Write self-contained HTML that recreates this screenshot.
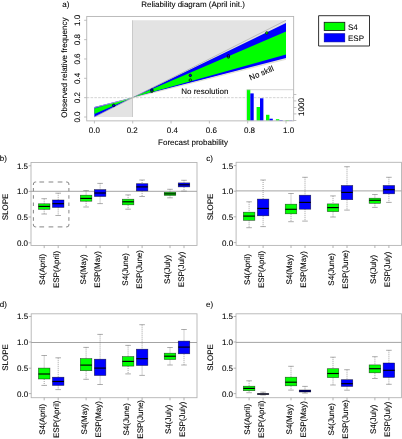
<!DOCTYPE html>
<html><head><meta charset="utf-8"><style>
html,body{margin:0;padding:0;background:#fff;}
body{width:402px;height:439px;overflow:hidden;}
svg{display:block;font-family:"Liberation Sans", sans-serif;text-rendering:geometricPrecision;}
#w{width:402px;height:439px;will-change:transform;}
</style></head><body>
<div id="w"><svg width="402" height="439" viewBox="0 0 402 439">
<g><rect width="402" height="439" fill="#fff"/>
<polygon points="94.40,117.00 132.50,117.00 132.50,20.30 286.00,20.30 286.00,58.98 94.40,107.33" fill="#e3e3e3" stroke="none"/>
<line x1="132.5" y1="117.0" x2="132.5" y2="20.299999999999997" stroke="#cacaca" stroke-width="1.0"/>
<polygon points="94.40,106.90 94.40,117.00 132.50,97.60" fill="#0000ff"/>
<polygon points="132.50,97.60 286.00,23.00 286.00,57.90" fill="#0000ff"/>
<polygon points="94.40,108.60 94.40,114.10 132.50,97.60" fill="#00ff00"/>
<polygon points="132.50,97.60 286.00,31.60 286.00,54.50" fill="#00ff00"/>
<line x1="94.4" y1="107.5234" x2="286.0" y2="59.2701" stroke="#d6d2c0" stroke-width="0.7"/>
<line x1="94.4" y1="117.0" x2="286.0" y2="20.299999999999997" stroke="#a8a8a8" stroke-width="0.7"/>
<line x1="86.736" y1="97.66" x2="293.664" y2="97.66" stroke="#c2c2c2" stroke-width="0.7" stroke-dasharray="2.6,1.2"/>
<rect x="246.9" y="89.6" width="3.4" height="31.00" fill="#00ff00"/>
<rect x="250.3" y="93.4" width="3.4" height="27.20" fill="#0000ff"/>
<rect x="256.6" y="107.0" width="3.4" height="13.60" fill="#00ff00"/>
<rect x="260.0" y="98.3" width="3.4" height="22.30" fill="#0000ff"/>
<rect x="266.0" y="114.8" width="3.4" height="5.80" fill="#00ff00"/>
<rect x="269.4" y="118.7" width="3.4" height="1.90" fill="#0000ff"/>
<rect x="275.9" y="119.2" width="3.4" height="1.40" fill="#00ff00"/>
<rect x="279.29999999999995" y="120.0" width="3.4" height="0.60" fill="#0000ff"/>
<rect x="285.5" y="120.1" width="3.4" height="0.50" fill="#00ff00"/>
<rect x="288.9" y="120.3" width="3.4" height="0.30" fill="#0000ff"/>
<line x1="246.8" y1="89.7" x2="293.664" y2="89.7" stroke="#c8c8c8" stroke-width="0.8"/>
<line x1="246.4" y1="89.7" x2="246.4" y2="120.868" stroke="#d0d0d0" stroke-width="0.7"/>
<line x1="293.664" y1="94.5" x2="296.364" y2="94.5" stroke="#b0b0b0" stroke-width="0.8"/>
<line x1="293.664" y1="100.9" x2="296.364" y2="100.9" stroke="#b0b0b0" stroke-width="0.8"/>
<line x1="293.664" y1="107.5" x2="296.364" y2="107.5" stroke="#b0b0b0" stroke-width="0.8"/>
<line x1="293.664" y1="113.9" x2="296.364" y2="113.9" stroke="#b0b0b0" stroke-width="0.8"/>
<line x1="293.664" y1="120.5" x2="296.364" y2="120.5" stroke="#b0b0b0" stroke-width="0.8"/>
<text x="304.2" y="107.0" font-size="8" text-anchor="middle" fill="#000" stroke="#000" stroke-width="0.08" transform="rotate(-90 304.2 107.0)">1000</text>
<circle cx="113.7" cy="105.4" r="1.25" fill="#0000ff" stroke="#000" stroke-width="0.7"/>
<circle cx="151.9" cy="91.2" r="1.25" fill="#00ff00" stroke="#000" stroke-width="0.7"/>
<circle cx="151.9" cy="90.1" r="1.25" fill="#0000ff" stroke="#000" stroke-width="0.7"/>
<circle cx="190.3" cy="75.4" r="1.25" fill="#0000ff" stroke="#000" stroke-width="0.7"/>
<circle cx="190.3" cy="80.1" r="1.25" fill="#00ff00" stroke="#000" stroke-width="0.7"/>
<circle cx="228.4" cy="57.0" r="1.25" fill="#00ff00" stroke="#000" stroke-width="0.7"/>
<circle cx="228.4" cy="55.8" r="1.25" fill="#0000ff" stroke="#000" stroke-width="0.7"/>
<circle cx="266.8" cy="32.9" r="1.25" fill="#00ff00" stroke="#000" stroke-width="0.7"/>
<rect x="86.736" y="16.431999999999988" width="206.928" height="104.436" fill="none" stroke="#b4b4b4" stroke-width="0.9"/>
<line x1="94.4" y1="120.868" x2="94.4" y2="123.46799999999999" stroke="#b0b0b0" stroke-width="0.8"/>
<text x="94.4" y="133.2" font-size="8" text-anchor="middle" fill="#000" stroke="#000" stroke-width="0.08">0.0</text>
<line x1="132.72" y1="120.868" x2="132.72" y2="123.46799999999999" stroke="#b0b0b0" stroke-width="0.8"/>
<text x="132.2" y="133.2" font-size="8" text-anchor="middle" fill="#000" stroke="#000" stroke-width="0.08">0.2</text>
<line x1="171.04000000000002" y1="120.868" x2="171.04000000000002" y2="123.46799999999999" stroke="#b0b0b0" stroke-width="0.8"/>
<text x="172.4" y="133.2" font-size="8" text-anchor="middle" fill="#000" stroke="#000" stroke-width="0.08">0.4</text>
<line x1="209.36" y1="120.868" x2="209.36" y2="123.46799999999999" stroke="#b0b0b0" stroke-width="0.8"/>
<text x="211.4" y="133.2" font-size="8" text-anchor="middle" fill="#000" stroke="#000" stroke-width="0.08">0.6</text>
<line x1="247.68" y1="120.868" x2="247.68" y2="123.46799999999999" stroke="#b0b0b0" stroke-width="0.8"/>
<text x="249.5" y="133.2" font-size="8" text-anchor="middle" fill="#000" stroke="#000" stroke-width="0.08">0.8</text>
<line x1="286.0" y1="120.868" x2="286.0" y2="123.46799999999999" stroke="#b0b0b0" stroke-width="0.8"/>
<text x="288.6" y="133.2" font-size="8" text-anchor="middle" fill="#000" stroke="#000" stroke-width="0.08">1.0</text>
<line x1="86.736" y1="117.0" x2="84.13600000000001" y2="117.0" stroke="#b0b0b0" stroke-width="0.8"/>
<text x="80.2" y="117.0" font-size="8" text-anchor="middle" fill="#000" stroke="#000" stroke-width="0.08" transform="rotate(-90 80.2 117.0)">0.0</text>
<line x1="86.736" y1="97.66" x2="84.13600000000001" y2="97.66" stroke="#b0b0b0" stroke-width="0.8"/>
<text x="80.2" y="97.66" font-size="8" text-anchor="middle" fill="#000" stroke="#000" stroke-width="0.08" transform="rotate(-90 80.2 97.66)">0.2</text>
<line x1="86.736" y1="78.32" x2="84.13600000000001" y2="78.32" stroke="#b0b0b0" stroke-width="0.8"/>
<text x="80.2" y="78.32" font-size="8" text-anchor="middle" fill="#000" stroke="#000" stroke-width="0.08" transform="rotate(-90 80.2 78.32)">0.4</text>
<line x1="86.736" y1="58.980000000000004" x2="84.13600000000001" y2="58.980000000000004" stroke="#b0b0b0" stroke-width="0.8"/>
<text x="80.2" y="58.980000000000004" font-size="8" text-anchor="middle" fill="#000" stroke="#000" stroke-width="0.08" transform="rotate(-90 80.2 58.980000000000004)">0.6</text>
<line x1="86.736" y1="39.639999999999986" x2="84.13600000000001" y2="39.639999999999986" stroke="#b0b0b0" stroke-width="0.8"/>
<text x="80.2" y="39.639999999999986" font-size="8" text-anchor="middle" fill="#000" stroke="#000" stroke-width="0.08" transform="rotate(-90 80.2 39.639999999999986)">0.8</text>
<line x1="86.736" y1="20.299999999999997" x2="84.13600000000001" y2="20.299999999999997" stroke="#b0b0b0" stroke-width="0.8"/>
<text x="80.2" y="20.299999999999997" font-size="8" text-anchor="middle" fill="#000" stroke="#000" stroke-width="0.08" transform="rotate(-90 80.2 20.299999999999997)">1.0</text>
<text x="193.0" y="145.4" font-size="8" text-anchor="middle" fill="#000" stroke="#000" stroke-width="0.08">Forecast probability</text>
<text x="67.2" y="67.6" font-size="8" text-anchor="middle" fill="#000" stroke="#000" stroke-width="0.08" transform="rotate(-90 67.2 67.6)">Observed relative frequency</text>
<text x="193.0" y="7.3" font-size="8" text-anchor="middle" fill="#000" stroke="#000" stroke-width="0.08">Reliability diagram (April init.)</text>
<text x="62.2" y="7.2" font-size="8" text-anchor="start" fill="#000" stroke="#000" stroke-width="0.08">a)</text>
<text x="204.8" y="94.3" font-size="8" text-anchor="middle" fill="#000" stroke="#000" stroke-width="0.08">No resolution</text>
<text x="250.6" y="80.6" font-size="8" text-anchor="start" fill="#000" stroke="#000" stroke-width="0.08" transform="rotate(-23 250.6 80.6)">No skill</text>
<rect x="318.6" y="15.7" width="50.9" height="30.3" fill="#fff" stroke="#333" stroke-width="1.0" stroke-linejoin="round"/>
<rect x="324.2" y="22.3" width="20.6" height="8.2" fill="#00ff00" stroke="#111" stroke-width="0.8"/>
<rect x="324.2" y="33.7" width="20.6" height="8.2" fill="#0000ff" stroke="#0000a0" stroke-width="0.6"/>
<text x="348.0" y="30.4" font-size="8" text-anchor="start" fill="#000" stroke="#000" stroke-width="0.08">S4</text>
<text x="348.0" y="40.6" font-size="8" text-anchor="start" fill="#000" stroke="#000" stroke-width="0.08">ESP</text>
<rect x="31.0" y="162.5" width="166.0" height="83.0" fill="none" stroke="#b4b4b4" stroke-width="0.9"/>
<line x1="31.0" y1="191.3" x2="197.0" y2="191.3" stroke="#9a9a9a" stroke-width="0.9"/>
<line x1="28.6" y1="165.8" x2="31.0" y2="165.8" stroke="#a0a0a0" stroke-width="0.8"/>
<text x="28.0" y="168.70000000000002" font-size="8" text-anchor="end" fill="#000" stroke="#000" stroke-width="0.08">1.5</text>
<line x1="28.6" y1="191.4" x2="31.0" y2="191.4" stroke="#a0a0a0" stroke-width="0.8"/>
<text x="28.0" y="194.3" font-size="8" text-anchor="end" fill="#000" stroke="#000" stroke-width="0.08">1.0</text>
<line x1="28.6" y1="217.0" x2="31.0" y2="217.0" stroke="#a0a0a0" stroke-width="0.8"/>
<text x="28.0" y="219.9" font-size="8" text-anchor="end" fill="#000" stroke="#000" stroke-width="0.08">0.5</text>
<line x1="28.6" y1="242.8" x2="31.0" y2="242.8" stroke="#a0a0a0" stroke-width="0.8"/>
<text x="28.0" y="245.70000000000002" font-size="8" text-anchor="end" fill="#000" stroke="#000" stroke-width="0.08">0.0</text>
<text x="8.0" y="207.0" font-size="8" text-anchor="middle" fill="#000" stroke="#000" stroke-width="0.08" transform="rotate(-90 8.0 207.0)">SLOPE</text>
<text x="-0.3" y="161.2" font-size="8" text-anchor="start" fill="#000" stroke="#000" stroke-width="0.08">b)</text>
<line x1="44.2" y1="198.7" x2="44.2" y2="203.8" stroke="#707070" stroke-width="0.65" stroke-dasharray="1,1"/>
<line x1="44.2" y1="209.3" x2="44.2" y2="214.0" stroke="#707070" stroke-width="0.65" stroke-dasharray="1,1"/>
<line x1="41.400000000000006" y1="198.7" x2="47.0" y2="198.7" stroke="#8a8a8a" stroke-width="0.7"/>
<line x1="41.400000000000006" y1="214.0" x2="47.0" y2="214.0" stroke="#8a8a8a" stroke-width="0.7"/>
<rect x="38.45" y="203.8" width="11.5" height="5.50" fill="#00ff00" stroke="#000" stroke-opacity="0.65" stroke-width="0.6"/>
<line x1="38.45" y1="206.4" x2="49.95" y2="206.4" stroke="#000" stroke-width="1.15"/>
<line x1="44.2" y1="245.5" x2="44.2" y2="248.1" stroke="#a0a0a0" stroke-width="0.8"/>
<text x="44.6" y="269.4" font-size="8" text-anchor="middle" fill="#000" stroke="#000" stroke-width="0.08" transform="rotate(-90 44.6 269.4)">S4(April)</text>
<line x1="58.2" y1="193.2" x2="58.2" y2="200.0" stroke="#707070" stroke-width="0.65" stroke-dasharray="1,1"/>
<line x1="58.2" y1="207.4" x2="58.2" y2="215.5" stroke="#707070" stroke-width="0.65" stroke-dasharray="1,1"/>
<line x1="55.400000000000006" y1="193.2" x2="61.0" y2="193.2" stroke="#8a8a8a" stroke-width="0.7"/>
<line x1="55.400000000000006" y1="215.5" x2="61.0" y2="215.5" stroke="#8a8a8a" stroke-width="0.7"/>
<rect x="52.45" y="200.0" width="11.5" height="7.40" fill="#0000ff" stroke="#000" stroke-opacity="0.65" stroke-width="0.6"/>
<line x1="52.45" y1="203.7" x2="63.95" y2="203.7" stroke="#000" stroke-width="1.15"/>
<line x1="58.2" y1="245.5" x2="58.2" y2="248.1" stroke="#a0a0a0" stroke-width="0.8"/>
<text x="58.6" y="269.4" font-size="8" text-anchor="middle" fill="#000" stroke="#000" stroke-width="0.08" transform="rotate(-90 58.6 269.4)">ESP(April)</text>
<line x1="86.1" y1="190.5" x2="86.1" y2="195.2" stroke="#707070" stroke-width="0.65" stroke-dasharray="1,1"/>
<line x1="86.1" y1="201.2" x2="86.1" y2="207.0" stroke="#707070" stroke-width="0.65" stroke-dasharray="1,1"/>
<line x1="83.3" y1="190.5" x2="88.89999999999999" y2="190.5" stroke="#8a8a8a" stroke-width="0.7"/>
<line x1="83.3" y1="207.0" x2="88.89999999999999" y2="207.0" stroke="#8a8a8a" stroke-width="0.7"/>
<rect x="80.35" y="195.2" width="11.5" height="6.00" fill="#00ff00" stroke="#000" stroke-opacity="0.65" stroke-width="0.6"/>
<line x1="80.35" y1="198.4" x2="91.85" y2="198.4" stroke="#000" stroke-width="1.15"/>
<line x1="86.1" y1="245.5" x2="86.1" y2="248.1" stroke="#a0a0a0" stroke-width="0.8"/>
<text x="86.5" y="269.4" font-size="8" text-anchor="middle" fill="#000" stroke="#000" stroke-width="0.08" transform="rotate(-90 86.5 269.4)">S4(May)</text>
<line x1="100.1" y1="183.4" x2="100.1" y2="189.6" stroke="#707070" stroke-width="0.65" stroke-dasharray="1,1"/>
<line x1="100.1" y1="196.5" x2="100.1" y2="203.6" stroke="#707070" stroke-width="0.65" stroke-dasharray="1,1"/>
<line x1="97.3" y1="183.4" x2="102.89999999999999" y2="183.4" stroke="#8a8a8a" stroke-width="0.7"/>
<line x1="97.3" y1="203.6" x2="102.89999999999999" y2="203.6" stroke="#8a8a8a" stroke-width="0.7"/>
<rect x="94.35" y="189.6" width="11.5" height="6.90" fill="#0000ff" stroke="#000" stroke-opacity="0.65" stroke-width="0.6"/>
<line x1="94.35" y1="193.0" x2="105.85" y2="193.0" stroke="#000" stroke-width="1.15"/>
<line x1="100.1" y1="245.5" x2="100.1" y2="248.1" stroke="#a0a0a0" stroke-width="0.8"/>
<text x="100.5" y="269.4" font-size="8" text-anchor="middle" fill="#000" stroke="#000" stroke-width="0.08" transform="rotate(-90 100.5 269.4)">ESP(May)</text>
<line x1="128.1" y1="194.9" x2="128.1" y2="199.2" stroke="#707070" stroke-width="0.65" stroke-dasharray="1,1"/>
<line x1="128.1" y1="204.8" x2="128.1" y2="209.2" stroke="#707070" stroke-width="0.65" stroke-dasharray="1,1"/>
<line x1="125.3" y1="194.9" x2="130.9" y2="194.9" stroke="#8a8a8a" stroke-width="0.7"/>
<line x1="125.3" y1="209.2" x2="130.9" y2="209.2" stroke="#8a8a8a" stroke-width="0.7"/>
<rect x="122.35" y="199.2" width="11.5" height="5.60" fill="#00ff00" stroke="#000" stroke-opacity="0.65" stroke-width="0.6"/>
<line x1="122.35" y1="201.8" x2="133.85" y2="201.8" stroke="#000" stroke-width="1.15"/>
<line x1="128.1" y1="245.5" x2="128.1" y2="248.1" stroke="#a0a0a0" stroke-width="0.8"/>
<text x="128.5" y="269.4" font-size="8" text-anchor="middle" fill="#000" stroke="#000" stroke-width="0.08" transform="rotate(-90 128.5 269.4)">S4(June)</text>
<line x1="142.1" y1="180.0" x2="142.1" y2="183.7" stroke="#707070" stroke-width="0.65" stroke-dasharray="1,1"/>
<line x1="142.1" y1="190.9" x2="142.1" y2="196.5" stroke="#707070" stroke-width="0.65" stroke-dasharray="1,1"/>
<line x1="139.29999999999998" y1="180.0" x2="144.9" y2="180.0" stroke="#8a8a8a" stroke-width="0.7"/>
<line x1="139.29999999999998" y1="196.5" x2="144.9" y2="196.5" stroke="#8a8a8a" stroke-width="0.7"/>
<rect x="136.35" y="183.7" width="11.5" height="7.20" fill="#0000ff" stroke="#000" stroke-opacity="0.65" stroke-width="0.6"/>
<line x1="136.35" y1="186.9" x2="147.85" y2="186.9" stroke="#000" stroke-width="1.15"/>
<line x1="142.1" y1="245.5" x2="142.1" y2="248.1" stroke="#a0a0a0" stroke-width="0.8"/>
<text x="142.5" y="269.4" font-size="8" text-anchor="middle" fill="#000" stroke="#000" stroke-width="0.08" transform="rotate(-90 142.5 269.4)">ESP(June)</text>
<line x1="170.0" y1="189.3" x2="170.0" y2="192.3" stroke="#707070" stroke-width="0.65" stroke-dasharray="1,1"/>
<line x1="170.0" y1="195.4" x2="170.0" y2="197.8" stroke="#707070" stroke-width="0.65" stroke-dasharray="1,1"/>
<line x1="167.2" y1="189.3" x2="172.8" y2="189.3" stroke="#8a8a8a" stroke-width="0.7"/>
<line x1="167.2" y1="197.8" x2="172.8" y2="197.8" stroke="#8a8a8a" stroke-width="0.7"/>
<rect x="164.25" y="192.3" width="11.5" height="3.10" fill="#00ff00" stroke="#000" stroke-opacity="0.65" stroke-width="0.6"/>
<line x1="164.25" y1="193.9" x2="175.75" y2="193.9" stroke="#000" stroke-width="1.15"/>
<line x1="170.0" y1="245.5" x2="170.0" y2="248.1" stroke="#a0a0a0" stroke-width="0.8"/>
<text x="170.4" y="269.4" font-size="8" text-anchor="middle" fill="#000" stroke="#000" stroke-width="0.08" transform="rotate(-90 170.4 269.4)">S4(July)</text>
<line x1="184.0" y1="180.3" x2="184.0" y2="182.9" stroke="#707070" stroke-width="0.65" stroke-dasharray="1,1"/>
<line x1="184.0" y1="186.9" x2="184.0" y2="191.1" stroke="#707070" stroke-width="0.65" stroke-dasharray="1,1"/>
<line x1="181.2" y1="180.3" x2="186.8" y2="180.3" stroke="#8a8a8a" stroke-width="0.7"/>
<line x1="181.2" y1="191.1" x2="186.8" y2="191.1" stroke="#8a8a8a" stroke-width="0.7"/>
<rect x="178.25" y="182.9" width="11.5" height="4.00" fill="#0000ff" stroke="#000" stroke-opacity="0.65" stroke-width="0.6"/>
<line x1="178.25" y1="184.8" x2="189.75" y2="184.8" stroke="#000" stroke-width="1.15"/>
<line x1="184.0" y1="245.5" x2="184.0" y2="248.1" stroke="#a0a0a0" stroke-width="0.8"/>
<text x="184.4" y="269.4" font-size="8" text-anchor="middle" fill="#000" stroke="#000" stroke-width="0.08" transform="rotate(-90 184.4 269.4)">ESP(July)</text>
<rect x="236.1" y="162.3" width="165.4" height="83.1" fill="none" stroke="#b4b4b4" stroke-width="0.9"/>
<line x1="236.1" y1="190.9" x2="401.5" y2="190.9" stroke="#9a9a9a" stroke-width="0.9"/>
<line x1="233.7" y1="165.6" x2="236.1" y2="165.6" stroke="#a0a0a0" stroke-width="0.8"/>
<text x="233.1" y="168.5" font-size="8" text-anchor="end" fill="#000" stroke="#000" stroke-width="0.08">1.5</text>
<line x1="233.7" y1="191.2" x2="236.1" y2="191.2" stroke="#a0a0a0" stroke-width="0.8"/>
<text x="233.1" y="194.1" font-size="8" text-anchor="end" fill="#000" stroke="#000" stroke-width="0.08">1.0</text>
<line x1="233.7" y1="216.8" x2="236.1" y2="216.8" stroke="#a0a0a0" stroke-width="0.8"/>
<text x="233.1" y="219.70000000000002" font-size="8" text-anchor="end" fill="#000" stroke="#000" stroke-width="0.08">0.5</text>
<line x1="233.7" y1="242.6" x2="236.1" y2="242.6" stroke="#a0a0a0" stroke-width="0.8"/>
<text x="233.1" y="245.5" font-size="8" text-anchor="end" fill="#000" stroke="#000" stroke-width="0.08">0.0</text>
<text x="212.9" y="207.0" font-size="8" text-anchor="middle" fill="#000" stroke="#000" stroke-width="0.08" transform="rotate(-90 212.9 207.0)">SLOPE</text>
<text x="206.3" y="161.0" font-size="8" text-anchor="start" fill="#000" stroke="#000" stroke-width="0.08">c)</text>
<line x1="249.10000000000002" y1="201.8" x2="249.10000000000002" y2="212.2" stroke="#707070" stroke-width="0.65" stroke-dasharray="1,1"/>
<line x1="249.10000000000002" y1="220.3" x2="249.10000000000002" y2="227.7" stroke="#707070" stroke-width="0.65" stroke-dasharray="1,1"/>
<line x1="246.3" y1="201.8" x2="251.90000000000003" y2="201.8" stroke="#8a8a8a" stroke-width="0.7"/>
<line x1="246.3" y1="227.7" x2="251.90000000000003" y2="227.7" stroke="#8a8a8a" stroke-width="0.7"/>
<rect x="243.35" y="212.2" width="11.5" height="8.10" fill="#00ff00" stroke="#000" stroke-opacity="0.65" stroke-width="0.6"/>
<line x1="243.35000000000002" y1="216.1" x2="254.85000000000002" y2="216.1" stroke="#000" stroke-width="1.15"/>
<line x1="249.10000000000002" y1="245.4" x2="249.10000000000002" y2="248.0" stroke="#a0a0a0" stroke-width="0.8"/>
<text x="250.10000000000002" y="269.4" font-size="8" text-anchor="middle" fill="#000" stroke="#000" stroke-width="0.08" transform="rotate(-90 250.10000000000002 269.4)">S4(April)</text>
<line x1="263.1" y1="180.0" x2="263.1" y2="199.1" stroke="#707070" stroke-width="0.65" stroke-dasharray="1,1"/>
<line x1="263.1" y1="215.8" x2="263.1" y2="226.6" stroke="#707070" stroke-width="0.65" stroke-dasharray="1,1"/>
<line x1="260.3" y1="180.0" x2="265.90000000000003" y2="180.0" stroke="#8a8a8a" stroke-width="0.7"/>
<line x1="260.3" y1="226.6" x2="265.90000000000003" y2="226.6" stroke="#8a8a8a" stroke-width="0.7"/>
<rect x="257.35" y="199.1" width="11.5" height="16.70" fill="#0000ff" stroke="#000" stroke-opacity="0.65" stroke-width="0.6"/>
<line x1="257.35" y1="208.4" x2="268.85" y2="208.4" stroke="#000" stroke-width="1.15"/>
<line x1="263.1" y1="245.4" x2="263.1" y2="248.0" stroke="#a0a0a0" stroke-width="0.8"/>
<text x="264.1" y="269.4" font-size="8" text-anchor="middle" fill="#000" stroke="#000" stroke-width="0.08" transform="rotate(-90 264.1 269.4)">ESP(April)</text>
<line x1="291.0" y1="193.5" x2="291.0" y2="204.2" stroke="#707070" stroke-width="0.65" stroke-dasharray="1,1"/>
<line x1="291.0" y1="213.8" x2="291.0" y2="221.7" stroke="#707070" stroke-width="0.65" stroke-dasharray="1,1"/>
<line x1="288.2" y1="193.5" x2="293.8" y2="193.5" stroke="#8a8a8a" stroke-width="0.7"/>
<line x1="288.2" y1="221.7" x2="293.8" y2="221.7" stroke="#8a8a8a" stroke-width="0.7"/>
<rect x="285.25" y="204.2" width="11.5" height="9.60" fill="#00ff00" stroke="#000" stroke-opacity="0.65" stroke-width="0.6"/>
<line x1="285.25" y1="209.3" x2="296.75" y2="209.3" stroke="#000" stroke-width="1.15"/>
<line x1="291.0" y1="245.4" x2="291.0" y2="248.0" stroke="#a0a0a0" stroke-width="0.8"/>
<text x="292.0" y="269.4" font-size="8" text-anchor="middle" fill="#000" stroke="#000" stroke-width="0.08" transform="rotate(-90 292.0 269.4)">S4(May)</text>
<line x1="305.0" y1="177.3" x2="305.0" y2="195.2" stroke="#707070" stroke-width="0.65" stroke-dasharray="1,1"/>
<line x1="305.0" y1="209.2" x2="305.0" y2="221.1" stroke="#707070" stroke-width="0.65" stroke-dasharray="1,1"/>
<line x1="302.2" y1="177.3" x2="307.8" y2="177.3" stroke="#8a8a8a" stroke-width="0.7"/>
<line x1="302.2" y1="221.1" x2="307.8" y2="221.1" stroke="#8a8a8a" stroke-width="0.7"/>
<rect x="299.25" y="195.2" width="11.5" height="14.00" fill="#0000ff" stroke="#000" stroke-opacity="0.65" stroke-width="0.6"/>
<line x1="299.25" y1="202.4" x2="310.75" y2="202.4" stroke="#000" stroke-width="1.15"/>
<line x1="305.0" y1="245.4" x2="305.0" y2="248.0" stroke="#a0a0a0" stroke-width="0.8"/>
<text x="306.0" y="269.4" font-size="8" text-anchor="middle" fill="#000" stroke="#000" stroke-width="0.08" transform="rotate(-90 306.0 269.4)">ESP(May)</text>
<line x1="333.0" y1="195.9" x2="333.0" y2="203.9" stroke="#707070" stroke-width="0.65" stroke-dasharray="1,1"/>
<line x1="333.0" y1="211.6" x2="333.0" y2="217.0" stroke="#707070" stroke-width="0.65" stroke-dasharray="1,1"/>
<line x1="330.2" y1="195.9" x2="335.8" y2="195.9" stroke="#8a8a8a" stroke-width="0.7"/>
<line x1="330.2" y1="217.0" x2="335.8" y2="217.0" stroke="#8a8a8a" stroke-width="0.7"/>
<rect x="327.25" y="203.9" width="11.5" height="7.70" fill="#00ff00" stroke="#000" stroke-opacity="0.65" stroke-width="0.6"/>
<line x1="327.25" y1="207.6" x2="338.75" y2="207.6" stroke="#000" stroke-width="1.15"/>
<line x1="333.0" y1="245.4" x2="333.0" y2="248.0" stroke="#a0a0a0" stroke-width="0.8"/>
<text x="334.0" y="269.4" font-size="8" text-anchor="middle" fill="#000" stroke="#000" stroke-width="0.08" transform="rotate(-90 334.0 269.4)">S4(June)</text>
<line x1="347.0" y1="166.7" x2="347.0" y2="185.5" stroke="#707070" stroke-width="0.65" stroke-dasharray="1,1"/>
<line x1="347.0" y1="199.7" x2="347.0" y2="210.1" stroke="#707070" stroke-width="0.65" stroke-dasharray="1,1"/>
<line x1="344.2" y1="166.7" x2="349.8" y2="166.7" stroke="#8a8a8a" stroke-width="0.7"/>
<line x1="344.2" y1="210.1" x2="349.8" y2="210.1" stroke="#8a8a8a" stroke-width="0.7"/>
<rect x="341.25" y="185.5" width="11.5" height="14.20" fill="#0000ff" stroke="#000" stroke-opacity="0.65" stroke-width="0.6"/>
<line x1="341.25" y1="192.4" x2="352.75" y2="192.4" stroke="#000" stroke-width="1.15"/>
<line x1="347.0" y1="245.4" x2="347.0" y2="248.0" stroke="#a0a0a0" stroke-width="0.8"/>
<text x="348.0" y="269.4" font-size="8" text-anchor="middle" fill="#000" stroke="#000" stroke-width="0.08" transform="rotate(-90 348.0 269.4)">ESP(June)</text>
<line x1="374.9" y1="194.5" x2="374.9" y2="198.2" stroke="#707070" stroke-width="0.65" stroke-dasharray="1,1"/>
<line x1="374.9" y1="203.3" x2="374.9" y2="207.4" stroke="#707070" stroke-width="0.65" stroke-dasharray="1,1"/>
<line x1="372.09999999999997" y1="194.5" x2="377.7" y2="194.5" stroke="#8a8a8a" stroke-width="0.7"/>
<line x1="372.09999999999997" y1="207.4" x2="377.7" y2="207.4" stroke="#8a8a8a" stroke-width="0.7"/>
<rect x="369.15" y="198.2" width="11.5" height="5.10" fill="#00ff00" stroke="#000" stroke-opacity="0.65" stroke-width="0.6"/>
<line x1="369.15" y1="200.3" x2="380.65" y2="200.3" stroke="#000" stroke-width="1.15"/>
<line x1="374.9" y1="245.4" x2="374.9" y2="248.0" stroke="#a0a0a0" stroke-width="0.8"/>
<text x="375.9" y="269.4" font-size="8" text-anchor="middle" fill="#000" stroke="#000" stroke-width="0.08" transform="rotate(-90 375.9 269.4)">S4(July)</text>
<line x1="388.9" y1="177.3" x2="388.9" y2="185.5" stroke="#707070" stroke-width="0.65" stroke-dasharray="1,1"/>
<line x1="388.9" y1="193.8" x2="388.9" y2="202.4" stroke="#707070" stroke-width="0.65" stroke-dasharray="1,1"/>
<line x1="386.09999999999997" y1="177.3" x2="391.7" y2="177.3" stroke="#8a8a8a" stroke-width="0.7"/>
<line x1="386.09999999999997" y1="202.4" x2="391.7" y2="202.4" stroke="#8a8a8a" stroke-width="0.7"/>
<rect x="383.15" y="185.5" width="11.5" height="8.30" fill="#0000ff" stroke="#000" stroke-opacity="0.65" stroke-width="0.6"/>
<line x1="383.15" y1="189.7" x2="394.65" y2="189.7" stroke="#000" stroke-width="1.15"/>
<line x1="388.9" y1="245.4" x2="388.9" y2="248.0" stroke="#a0a0a0" stroke-width="0.8"/>
<text x="389.9" y="269.4" font-size="8" text-anchor="middle" fill="#000" stroke="#000" stroke-width="0.08" transform="rotate(-90 389.9 269.4)">ESP(July)</text>
<rect x="31.2" y="313.8" width="165.8" height="83.89999999999998" fill="none" stroke="#b4b4b4" stroke-width="0.9"/>
<line x1="31.2" y1="342.5" x2="197.0" y2="342.5" stroke="#9a9a9a" stroke-width="0.9"/>
<line x1="28.8" y1="316.5" x2="31.2" y2="316.5" stroke="#a0a0a0" stroke-width="0.8"/>
<text x="28.2" y="319.4" font-size="8" text-anchor="end" fill="#000" stroke="#000" stroke-width="0.08">1.5</text>
<line x1="28.8" y1="342.0" x2="31.2" y2="342.0" stroke="#a0a0a0" stroke-width="0.8"/>
<text x="28.2" y="344.9" font-size="8" text-anchor="end" fill="#000" stroke="#000" stroke-width="0.08">1.0</text>
<line x1="28.8" y1="368.2" x2="31.2" y2="368.2" stroke="#a0a0a0" stroke-width="0.8"/>
<text x="28.2" y="371.09999999999997" font-size="8" text-anchor="end" fill="#000" stroke="#000" stroke-width="0.08">0.5</text>
<line x1="28.8" y1="393.6" x2="31.2" y2="393.6" stroke="#a0a0a0" stroke-width="0.8"/>
<text x="28.2" y="396.5" font-size="8" text-anchor="end" fill="#000" stroke="#000" stroke-width="0.08">0.0</text>
<text x="8.0" y="357.5" font-size="8" text-anchor="middle" fill="#000" stroke="#000" stroke-width="0.08" transform="rotate(-90 8.0 357.5)">SLOPE</text>
<text x="-0.3" y="306.9" font-size="8" text-anchor="start" fill="#000" stroke="#000" stroke-width="0.08">d)</text>
<line x1="44.2" y1="355.5" x2="44.2" y2="368.1" stroke="#707070" stroke-width="0.65" stroke-dasharray="1,1"/>
<line x1="44.2" y1="379.0" x2="44.2" y2="385.4" stroke="#707070" stroke-width="0.65" stroke-dasharray="1,1"/>
<line x1="41.400000000000006" y1="355.5" x2="47.0" y2="355.5" stroke="#8a8a8a" stroke-width="0.7"/>
<line x1="41.400000000000006" y1="385.4" x2="47.0" y2="385.4" stroke="#8a8a8a" stroke-width="0.7"/>
<rect x="38.45" y="368.1" width="11.5" height="10.90" fill="#00ff00" stroke="#000" stroke-opacity="0.65" stroke-width="0.6"/>
<line x1="38.45" y1="374.0" x2="49.95" y2="374.0" stroke="#000" stroke-width="1.15"/>
<line x1="44.2" y1="397.7" x2="44.2" y2="400.3" stroke="#a0a0a0" stroke-width="0.8"/>
<text x="45.0" y="419.3" font-size="8" text-anchor="middle" fill="#000" stroke="#000" stroke-width="0.08" transform="rotate(-90 45.0 419.3)">S4(April)</text>
<line x1="58.2" y1="357.8" x2="58.2" y2="377.2" stroke="#707070" stroke-width="0.65" stroke-dasharray="1,1"/>
<line x1="58.2" y1="385.4" x2="58.2" y2="389.6" stroke="#707070" stroke-width="0.65" stroke-dasharray="1,1"/>
<line x1="55.400000000000006" y1="357.8" x2="61.0" y2="357.8" stroke="#8a8a8a" stroke-width="0.7"/>
<line x1="55.400000000000006" y1="389.6" x2="61.0" y2="389.6" stroke="#8a8a8a" stroke-width="0.7"/>
<rect x="52.45" y="377.2" width="11.5" height="8.20" fill="#0000ff" stroke="#000" stroke-opacity="0.65" stroke-width="0.6"/>
<line x1="52.45" y1="381.5" x2="63.95" y2="381.5" stroke="#000" stroke-width="1.15"/>
<line x1="58.2" y1="397.7" x2="58.2" y2="400.3" stroke="#a0a0a0" stroke-width="0.8"/>
<text x="59.0" y="419.3" font-size="8" text-anchor="middle" fill="#000" stroke="#000" stroke-width="0.08" transform="rotate(-90 59.0 419.3)">ESP(April)</text>
<line x1="86.1" y1="347.4" x2="86.1" y2="358.6" stroke="#707070" stroke-width="0.65" stroke-dasharray="1,1"/>
<line x1="86.1" y1="370.7" x2="86.1" y2="379.3" stroke="#707070" stroke-width="0.65" stroke-dasharray="1,1"/>
<line x1="83.3" y1="347.4" x2="88.89999999999999" y2="347.4" stroke="#8a8a8a" stroke-width="0.7"/>
<line x1="83.3" y1="379.3" x2="88.89999999999999" y2="379.3" stroke="#8a8a8a" stroke-width="0.7"/>
<rect x="80.35" y="358.6" width="11.5" height="12.10" fill="#00ff00" stroke="#000" stroke-opacity="0.65" stroke-width="0.6"/>
<line x1="80.35" y1="365.1" x2="91.85" y2="365.1" stroke="#000" stroke-width="1.15"/>
<line x1="86.1" y1="397.7" x2="86.1" y2="400.3" stroke="#a0a0a0" stroke-width="0.8"/>
<text x="86.9" y="419.3" font-size="8" text-anchor="middle" fill="#000" stroke="#000" stroke-width="0.08" transform="rotate(-90 86.9 419.3)">S4(May)</text>
<line x1="100.1" y1="334.4" x2="100.1" y2="359.2" stroke="#707070" stroke-width="0.65" stroke-dasharray="1,1"/>
<line x1="100.1" y1="375.5" x2="100.1" y2="384.5" stroke="#707070" stroke-width="0.65" stroke-dasharray="1,1"/>
<line x1="97.3" y1="334.4" x2="102.89999999999999" y2="334.4" stroke="#8a8a8a" stroke-width="0.7"/>
<line x1="97.3" y1="384.5" x2="102.89999999999999" y2="384.5" stroke="#8a8a8a" stroke-width="0.7"/>
<rect x="94.35" y="359.2" width="11.5" height="16.30" fill="#0000ff" stroke="#000" stroke-opacity="0.65" stroke-width="0.6"/>
<line x1="94.35" y1="368.1" x2="105.85" y2="368.1" stroke="#000" stroke-width="1.15"/>
<line x1="100.1" y1="397.7" x2="100.1" y2="400.3" stroke="#a0a0a0" stroke-width="0.8"/>
<text x="100.9" y="419.3" font-size="8" text-anchor="middle" fill="#000" stroke="#000" stroke-width="0.08" transform="rotate(-90 100.9 419.3)">ESP(May)</text>
<line x1="128.1" y1="345.4" x2="128.1" y2="356.6" stroke="#707070" stroke-width="0.65" stroke-dasharray="1,1"/>
<line x1="128.1" y1="366.1" x2="128.1" y2="373.9" stroke="#707070" stroke-width="0.65" stroke-dasharray="1,1"/>
<line x1="125.3" y1="345.4" x2="130.9" y2="345.4" stroke="#8a8a8a" stroke-width="0.7"/>
<line x1="125.3" y1="373.9" x2="130.9" y2="373.9" stroke="#8a8a8a" stroke-width="0.7"/>
<rect x="122.35" y="356.6" width="11.5" height="9.50" fill="#00ff00" stroke="#000" stroke-opacity="0.65" stroke-width="0.6"/>
<line x1="122.35" y1="361.4" x2="133.85" y2="361.4" stroke="#000" stroke-width="1.15"/>
<line x1="128.1" y1="397.7" x2="128.1" y2="400.3" stroke="#a0a0a0" stroke-width="0.8"/>
<text x="128.9" y="419.3" font-size="8" text-anchor="middle" fill="#000" stroke="#000" stroke-width="0.08" transform="rotate(-90 128.9 419.3)">S4(June)</text>
<line x1="142.1" y1="324.7" x2="142.1" y2="349.2" stroke="#707070" stroke-width="0.65" stroke-dasharray="1,1"/>
<line x1="142.1" y1="365.5" x2="142.1" y2="375.4" stroke="#707070" stroke-width="0.65" stroke-dasharray="1,1"/>
<line x1="139.29999999999998" y1="324.7" x2="144.9" y2="324.7" stroke="#8a8a8a" stroke-width="0.7"/>
<line x1="139.29999999999998" y1="375.4" x2="144.9" y2="375.4" stroke="#8a8a8a" stroke-width="0.7"/>
<rect x="136.35" y="349.2" width="11.5" height="16.30" fill="#0000ff" stroke="#000" stroke-opacity="0.65" stroke-width="0.6"/>
<line x1="136.35" y1="358.7" x2="147.85" y2="358.7" stroke="#000" stroke-width="1.15"/>
<line x1="142.1" y1="397.7" x2="142.1" y2="400.3" stroke="#a0a0a0" stroke-width="0.8"/>
<text x="142.9" y="419.3" font-size="8" text-anchor="middle" fill="#000" stroke="#000" stroke-width="0.08" transform="rotate(-90 142.9 419.3)">ESP(June)</text>
<line x1="170.0" y1="347.5" x2="170.0" y2="353.2" stroke="#707070" stroke-width="0.65" stroke-dasharray="1,1"/>
<line x1="170.0" y1="359.5" x2="170.0" y2="365.0" stroke="#707070" stroke-width="0.65" stroke-dasharray="1,1"/>
<line x1="167.2" y1="347.5" x2="172.8" y2="347.5" stroke="#8a8a8a" stroke-width="0.7"/>
<line x1="167.2" y1="365.0" x2="172.8" y2="365.0" stroke="#8a8a8a" stroke-width="0.7"/>
<rect x="164.25" y="353.2" width="11.5" height="6.30" fill="#00ff00" stroke="#000" stroke-opacity="0.65" stroke-width="0.6"/>
<line x1="164.25" y1="356.2" x2="175.75" y2="356.2" stroke="#000" stroke-width="1.15"/>
<line x1="170.0" y1="397.7" x2="170.0" y2="400.3" stroke="#a0a0a0" stroke-width="0.8"/>
<text x="170.8" y="419.3" font-size="8" text-anchor="middle" fill="#000" stroke="#000" stroke-width="0.08" transform="rotate(-90 170.8 419.3)">S4(July)</text>
<line x1="184.0" y1="329.5" x2="184.0" y2="341.1" stroke="#707070" stroke-width="0.65" stroke-dasharray="1,1"/>
<line x1="184.0" y1="353.8" x2="184.0" y2="365.0" stroke="#707070" stroke-width="0.65" stroke-dasharray="1,1"/>
<line x1="181.2" y1="329.5" x2="186.8" y2="329.5" stroke="#8a8a8a" stroke-width="0.7"/>
<line x1="181.2" y1="365.0" x2="186.8" y2="365.0" stroke="#8a8a8a" stroke-width="0.7"/>
<rect x="178.25" y="341.1" width="11.5" height="12.70" fill="#0000ff" stroke="#000" stroke-opacity="0.65" stroke-width="0.6"/>
<line x1="178.25" y1="347.1" x2="189.75" y2="347.1" stroke="#000" stroke-width="1.15"/>
<line x1="184.0" y1="397.7" x2="184.0" y2="400.3" stroke="#a0a0a0" stroke-width="0.8"/>
<text x="184.8" y="419.3" font-size="8" text-anchor="middle" fill="#000" stroke="#000" stroke-width="0.08" transform="rotate(-90 184.8 419.3)">ESP(July)</text>
<rect x="236.0" y="313.8" width="165.39999999999998" height="83.89999999999998" fill="none" stroke="#b4b4b4" stroke-width="0.9"/>
<line x1="236.0" y1="342.4" x2="401.4" y2="342.4" stroke="#9a9a9a" stroke-width="0.9"/>
<line x1="233.6" y1="316.5" x2="236.0" y2="316.5" stroke="#a0a0a0" stroke-width="0.8"/>
<text x="233.0" y="319.4" font-size="8" text-anchor="end" fill="#000" stroke="#000" stroke-width="0.08">1.5</text>
<line x1="233.6" y1="342.0" x2="236.0" y2="342.0" stroke="#a0a0a0" stroke-width="0.8"/>
<text x="233.0" y="344.9" font-size="8" text-anchor="end" fill="#000" stroke="#000" stroke-width="0.08">1.0</text>
<line x1="233.6" y1="368.2" x2="236.0" y2="368.2" stroke="#a0a0a0" stroke-width="0.8"/>
<text x="233.0" y="371.09999999999997" font-size="8" text-anchor="end" fill="#000" stroke="#000" stroke-width="0.08">0.5</text>
<line x1="233.6" y1="393.6" x2="236.0" y2="393.6" stroke="#a0a0a0" stroke-width="0.8"/>
<text x="233.0" y="396.5" font-size="8" text-anchor="end" fill="#000" stroke="#000" stroke-width="0.08">0.0</text>
<text x="212.9" y="357.5" font-size="8" text-anchor="middle" fill="#000" stroke="#000" stroke-width="0.08" transform="rotate(-90 212.9 357.5)">SLOPE</text>
<text x="206.0" y="306.9" font-size="8" text-anchor="start" fill="#000" stroke="#000" stroke-width="0.08">e)</text>
<line x1="249.10000000000002" y1="380.8" x2="249.10000000000002" y2="386.2" stroke="#707070" stroke-width="0.65" stroke-dasharray="1,1"/>
<line x1="249.10000000000002" y1="390.7" x2="249.10000000000002" y2="392.7" stroke="#707070" stroke-width="0.65" stroke-dasharray="1,1"/>
<line x1="246.3" y1="380.8" x2="251.90000000000003" y2="380.8" stroke="#8a8a8a" stroke-width="0.7"/>
<line x1="246.3" y1="392.7" x2="251.90000000000003" y2="392.7" stroke="#8a8a8a" stroke-width="0.7"/>
<rect x="243.35" y="386.2" width="11.5" height="4.50" fill="#00ff00" stroke="#000" stroke-opacity="0.65" stroke-width="0.6"/>
<line x1="243.35000000000002" y1="388.4" x2="254.85000000000002" y2="388.4" stroke="#000" stroke-width="1.15"/>
<line x1="249.10000000000002" y1="397.7" x2="249.10000000000002" y2="400.3" stroke="#a0a0a0" stroke-width="0.8"/>
<text x="250.10000000000002" y="419.3" font-size="8" text-anchor="middle" fill="#000" stroke="#000" stroke-width="0.08" transform="rotate(-90 250.10000000000002 419.3)">S4(April)</text>
<line x1="263.1" y1="392.1" x2="263.1" y2="393.75" stroke="#707070" stroke-width="0.65" stroke-dasharray="1,1"/>
<line x1="263.1" y1="394.25" x2="263.1" y2="395.0" stroke="#707070" stroke-width="0.65" stroke-dasharray="1,1"/>
<line x1="260.3" y1="392.1" x2="265.90000000000003" y2="392.1" stroke="#8a8a8a" stroke-width="0.7"/>
<line x1="260.3" y1="395.0" x2="265.90000000000003" y2="395.0" stroke="#8a8a8a" stroke-width="0.7"/>
<rect x="257.35" y="393.75" width="11.5" height="0.50" fill="#0000ff" stroke="#000" stroke-opacity="0.65" stroke-width="0.6"/>
<line x1="257.35" y1="394.0" x2="268.85" y2="394.0" stroke="#000" stroke-width="1.15"/>
<line x1="263.1" y1="397.7" x2="263.1" y2="400.3" stroke="#a0a0a0" stroke-width="0.8"/>
<text x="264.1" y="419.3" font-size="8" text-anchor="middle" fill="#000" stroke="#000" stroke-width="0.08" transform="rotate(-90 264.1 419.3)">ESP(April)</text>
<line x1="291.0" y1="366.3" x2="291.0" y2="377.2" stroke="#707070" stroke-width="0.65" stroke-dasharray="1,1"/>
<line x1="291.0" y1="385.8" x2="291.0" y2="390.1" stroke="#707070" stroke-width="0.65" stroke-dasharray="1,1"/>
<line x1="288.2" y1="366.3" x2="293.8" y2="366.3" stroke="#8a8a8a" stroke-width="0.7"/>
<line x1="288.2" y1="390.1" x2="293.8" y2="390.1" stroke="#8a8a8a" stroke-width="0.7"/>
<rect x="285.25" y="377.2" width="11.5" height="8.60" fill="#00ff00" stroke="#000" stroke-opacity="0.65" stroke-width="0.6"/>
<line x1="285.25" y1="382.2" x2="296.75" y2="382.2" stroke="#000" stroke-width="1.15"/>
<line x1="291.0" y1="397.7" x2="291.0" y2="400.3" stroke="#a0a0a0" stroke-width="0.8"/>
<text x="292.0" y="419.3" font-size="8" text-anchor="middle" fill="#000" stroke="#000" stroke-width="0.08" transform="rotate(-90 292.0 419.3)">S4(May)</text>
<line x1="305.0" y1="386.4" x2="305.0" y2="390.0" stroke="#707070" stroke-width="0.65" stroke-dasharray="1,1"/>
<line x1="305.0" y1="392.0" x2="305.0" y2="393.1" stroke="#707070" stroke-width="0.65" stroke-dasharray="1,1"/>
<line x1="302.2" y1="386.4" x2="307.8" y2="386.4" stroke="#8a8a8a" stroke-width="0.7"/>
<line x1="302.2" y1="393.1" x2="307.8" y2="393.1" stroke="#8a8a8a" stroke-width="0.7"/>
<rect x="299.25" y="390.0" width="11.5" height="2.00" fill="#0000ff" stroke="#000" stroke-opacity="0.65" stroke-width="0.6"/>
<line x1="299.25" y1="391.0" x2="310.75" y2="391.0" stroke="#000" stroke-width="1.15"/>
<line x1="305.0" y1="397.7" x2="305.0" y2="400.3" stroke="#a0a0a0" stroke-width="0.8"/>
<text x="306.0" y="419.3" font-size="8" text-anchor="middle" fill="#000" stroke="#000" stroke-width="0.08" transform="rotate(-90 306.0 419.3)">ESP(May)</text>
<line x1="333.0" y1="357.2" x2="333.0" y2="368.7" stroke="#707070" stroke-width="0.65" stroke-dasharray="1,1"/>
<line x1="333.0" y1="377.6" x2="333.0" y2="385.0" stroke="#707070" stroke-width="0.65" stroke-dasharray="1,1"/>
<line x1="330.2" y1="357.2" x2="335.8" y2="357.2" stroke="#8a8a8a" stroke-width="0.7"/>
<line x1="330.2" y1="385.0" x2="335.8" y2="385.0" stroke="#8a8a8a" stroke-width="0.7"/>
<rect x="327.25" y="368.7" width="11.5" height="8.90" fill="#00ff00" stroke="#000" stroke-opacity="0.65" stroke-width="0.6"/>
<line x1="327.25" y1="373.5" x2="338.75" y2="373.5" stroke="#000" stroke-width="1.15"/>
<line x1="333.0" y1="397.7" x2="333.0" y2="400.3" stroke="#a0a0a0" stroke-width="0.8"/>
<text x="334.0" y="419.3" font-size="8" text-anchor="middle" fill="#000" stroke="#000" stroke-width="0.08" transform="rotate(-90 334.0 419.3)">S4(June)</text>
<line x1="347.0" y1="369.7" x2="347.0" y2="379.7" stroke="#707070" stroke-width="0.65" stroke-dasharray="1,1"/>
<line x1="347.0" y1="386.4" x2="347.0" y2="390.2" stroke="#707070" stroke-width="0.65" stroke-dasharray="1,1"/>
<line x1="344.2" y1="369.7" x2="349.8" y2="369.7" stroke="#8a8a8a" stroke-width="0.7"/>
<line x1="344.2" y1="390.2" x2="349.8" y2="390.2" stroke="#8a8a8a" stroke-width="0.7"/>
<rect x="341.25" y="379.7" width="11.5" height="6.70" fill="#0000ff" stroke="#000" stroke-opacity="0.65" stroke-width="0.6"/>
<line x1="341.25" y1="383.7" x2="352.75" y2="383.7" stroke="#000" stroke-width="1.15"/>
<line x1="347.0" y1="397.7" x2="347.0" y2="400.3" stroke="#a0a0a0" stroke-width="0.8"/>
<text x="348.0" y="419.3" font-size="8" text-anchor="middle" fill="#000" stroke="#000" stroke-width="0.08" transform="rotate(-90 348.0 419.3)">ESP(June)</text>
<line x1="374.9" y1="356.7" x2="374.9" y2="364.9" stroke="#707070" stroke-width="0.65" stroke-dasharray="1,1"/>
<line x1="374.9" y1="372.8" x2="374.9" y2="378.5" stroke="#707070" stroke-width="0.65" stroke-dasharray="1,1"/>
<line x1="372.09999999999997" y1="356.7" x2="377.7" y2="356.7" stroke="#8a8a8a" stroke-width="0.7"/>
<line x1="372.09999999999997" y1="378.5" x2="377.7" y2="378.5" stroke="#8a8a8a" stroke-width="0.7"/>
<rect x="369.15" y="364.9" width="11.5" height="7.90" fill="#00ff00" stroke="#000" stroke-opacity="0.65" stroke-width="0.6"/>
<line x1="369.15" y1="368.7" x2="380.65" y2="368.7" stroke="#000" stroke-width="1.15"/>
<line x1="374.9" y1="397.7" x2="374.9" y2="400.3" stroke="#a0a0a0" stroke-width="0.8"/>
<text x="375.9" y="419.3" font-size="8" text-anchor="middle" fill="#000" stroke="#000" stroke-width="0.08" transform="rotate(-90 375.9 419.3)">S4(July)</text>
<line x1="388.9" y1="350.3" x2="388.9" y2="363.0" stroke="#707070" stroke-width="0.65" stroke-dasharray="1,1"/>
<line x1="388.9" y1="377.4" x2="388.9" y2="384.3" stroke="#707070" stroke-width="0.65" stroke-dasharray="1,1"/>
<line x1="386.09999999999997" y1="350.3" x2="391.7" y2="350.3" stroke="#8a8a8a" stroke-width="0.7"/>
<line x1="386.09999999999997" y1="384.3" x2="391.7" y2="384.3" stroke="#8a8a8a" stroke-width="0.7"/>
<rect x="383.15" y="363.0" width="11.5" height="14.40" fill="#0000ff" stroke="#000" stroke-opacity="0.65" stroke-width="0.6"/>
<line x1="383.15" y1="370.3" x2="394.65" y2="370.3" stroke="#000" stroke-width="1.15"/>
<line x1="388.9" y1="397.7" x2="388.9" y2="400.3" stroke="#a0a0a0" stroke-width="0.8"/>
<text x="389.9" y="419.3" font-size="8" text-anchor="middle" fill="#000" stroke="#000" stroke-width="0.08" transform="rotate(-90 389.9 419.3)">ESP(July)</text>
<line x1="39.4" y1="182.0" x2="44.1" y2="182.0" stroke="#858585" stroke-width="1.0"/>
<line x1="39.4" y1="226.9" x2="44.1" y2="226.9" stroke="#858585" stroke-width="1.0"/>
<line x1="48.6" y1="182.0" x2="53.3" y2="182.0" stroke="#858585" stroke-width="1.0"/>
<line x1="48.6" y1="226.9" x2="53.3" y2="226.9" stroke="#858585" stroke-width="1.0"/>
<line x1="57.7" y1="182.0" x2="62.4" y2="182.0" stroke="#858585" stroke-width="1.0"/>
<line x1="57.7" y1="226.9" x2="62.4" y2="226.9" stroke="#858585" stroke-width="1.0"/>
<line x1="33.4" y1="188.0" x2="33.4" y2="191.3" stroke="#858585" stroke-width="1.0"/>
<line x1="68.9" y1="188.0" x2="68.9" y2="191.3" stroke="#858585" stroke-width="1.0"/>
<line x1="33.4" y1="195.2" x2="33.4" y2="198.7" stroke="#858585" stroke-width="1.0"/>
<line x1="68.9" y1="195.2" x2="68.9" y2="198.7" stroke="#858585" stroke-width="1.0"/>
<line x1="33.4" y1="202.5" x2="33.4" y2="206.0" stroke="#858585" stroke-width="1.0"/>
<line x1="68.9" y1="202.5" x2="68.9" y2="206.0" stroke="#858585" stroke-width="1.0"/>
<line x1="33.4" y1="209.9" x2="33.4" y2="213.4" stroke="#858585" stroke-width="1.0"/>
<line x1="68.9" y1="209.9" x2="68.9" y2="213.4" stroke="#858585" stroke-width="1.0"/>
<line x1="33.4" y1="217.2" x2="33.4" y2="220.8" stroke="#858585" stroke-width="1.0"/>
<line x1="68.9" y1="217.2" x2="68.9" y2="220.8" stroke="#858585" stroke-width="1.0"/>
<path d="M33.4 185.0 V184.0 A2.0 2.0 0 0 1 35.4 182.0 H36.199999999999996" fill="none" stroke="#858585" stroke-width="1.0"/>
<path d="M66.10000000000001 182.0 H66.9 A2.0 2.0 0 0 1 68.9 184.0 V185.0" fill="none" stroke="#858585" stroke-width="1.0"/>
<path d="M33.4 223.9 V224.9 A2.0 2.0 0 0 0 35.4 226.9 H36.199999999999996" fill="none" stroke="#858585" stroke-width="1.0"/>
<path d="M66.10000000000001 226.9 H66.9 A2.0 2.0 0 0 0 68.9 224.9 V223.9" fill="none" stroke="#858585" stroke-width="1.0"/>
</g>
</svg></div>
</body></html>
